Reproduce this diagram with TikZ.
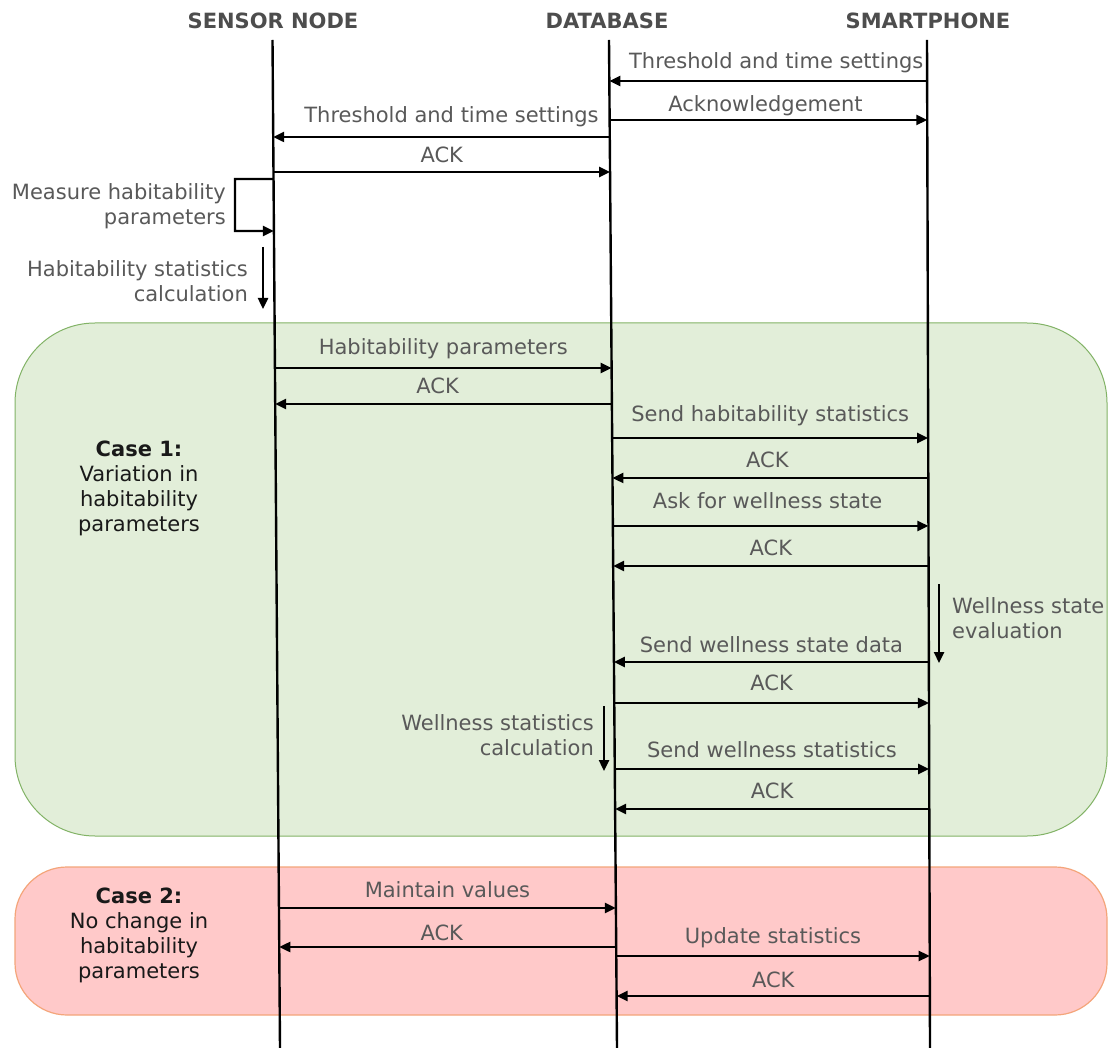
\documentclass[tikz,border=0pt]{standalone}
\usepackage{fontspec}
\setmainfont{DejaVu Sans}
\usetikzlibrary{arrows.meta,calc}
\definecolor{lblgray}{HTML}{595959}
\definecolor{hdrgray}{HTML}{4D4D4D}
\definecolor{gfill}{HTML}{E2EED9}
\definecolor{gline}{HTML}{82B366}
\definecolor{rfill}{HTML}{FFC9C9}
\definecolor{rline}{HTML}{F4A57A}
\newcommand\onl[3]{\coordinate (#3) at ($(#1T)!{(#2-40)/1008}!(#1B)$);}
\begin{document}
\begin{tikzpicture}[x=1pt,y=-1pt,
  every node/.style={font=\fontsize{21}{25}\selectfont},
  msg/.style={line width=2.4pt,-{Triangle[length=11pt,width=10pt]}},
  life/.style={line width=2.4pt},
  lbl/.style={anchor=base,text=lblgray,inner sep=0pt},
  note/.style={text=lblgray,inner sep=0pt},
  hdr/.style={text=hdrgray,font=\fontsize{21}{25}\selectfont\bfseries},
  casetxt/.style={text=black!90,align=center,inner sep=0pt}]
\useasboundingbox (0,0) rectangle (1108,1048);
\fill[white] (0,0) rectangle (1108,1048);
% case boxes
\draw[fill=gfill,draw=gline,line width=1pt,rounded corners=80pt] (15,323) rectangle (1107,836);
\draw[fill=rfill,draw=rline,line width=1.2pt,rounded corners=52pt] (15,867) rectangle (1107,1015);
% headers
\node[hdr] (hsn) at (273,21) {SENSOR NODE};
\node[hdr] (hdb) at (607,21) {DATABASE};
\node[hdr] (hsp) at (928,21) {SMARTPHONE};
% lifelines
\coordinate (snT) at (272.5,40); \coordinate (snB) at (280,1048);
\coordinate (dbT) at (609,40);   \coordinate (dbB) at (617,1048);
\coordinate (spT) at (927,40);   \coordinate (spB) at (930,1048);
\draw[life] (snT) -- (snB);
\draw[life] (dbT) -- (dbB);
\draw[life] (spT) -- (spB);
% messages - setup
\onl{sp}{81}{a1}\onl{db}{81}{b1}
\draw[msg] (a1) -- node[lbl,midway,xshift=8pt,yshift=12pt]{Threshold and time settings} (b1);
\onl{db}{120}{a2}\onl{sp}{120}{b2}
\draw[msg] (a2) -- node[lbl,midway,xshift=-3pt,yshift=8pt]{Acknowledgement} (b2);
\onl{db}{137}{a3}\onl{sn}{137}{b3}
\draw[msg] (a3) -- node[lbl,midway,xshift=10pt,yshift=14pt]{Threshold and time settings} (b3);
\onl{sn}{172}{a4}\onl{db}{172}{b4}
\draw[msg] (a4) -- node[lbl,midway,yshift=9pt]{ACK} (b4);
% self loop
\onl{sn}{179}{l1}\onl{sn}{231}{l2}
\coordinate (lc) at (235,179);
\draw[msg] (l1) -- (lc) |- (l2);
\node[note,align=right,anchor=east] (mlbl) at (226,206) {Measure habitability\\parameters};
% habitability statistics calculation
\coordinate (d1a) at (263,247); \coordinate (d1b) at (263,309);
\draw[msg] (d1a) -- (d1b);
\node[note,align=right,anchor=east] (hlbl) at (248,281) {Habitability statistics\\calculation};
% case 1
\onl{sn}{368}{a5}\onl{db}{368}{b5}
\draw[msg] (a5) -- node[lbl,midway,yshift=13pt]{Habitability parameters} (b5);
\onl{db}{404}{a6}\onl{sn}{404}{b6}
\draw[msg] (a6) -- node[lbl,midway,xshift=-6pt,yshift=10pt]{ACK} (b6);
\onl{db}{438}{a7}\onl{sp}{438}{b7}
\draw[msg] (a7) -- node[lbl,midway,yshift=16pt]{Send habitability statistics} (b7);
\onl{sp}{478}{a8}\onl{db}{478}{b8}
\draw[msg] (a8) -- node[lbl,midway,xshift=-3pt,yshift=10pt]{ACK} (b8);
\onl{db}{526}{a9}\onl{sp}{526}{b9}
\draw[msg] (a9) -- node[lbl,midway,xshift=-3pt,yshift=17pt]{Ask for wellness state} (b9);
\onl{sp}{566}{a10}\onl{db}{566}{b10}
\draw[msg] (a10) -- node[lbl,midway,yshift=10pt]{ACK} (b10);
\coordinate (d2a) at (939,584); \coordinate (d2b) at (939,663);
\draw[msg] (d2a) -- (d2b);
\node[note,align=left,anchor=west] (wlbl) at (952,618) {Wellness state\\evaluation};
\onl{sp}{662}{a11}\onl{db}{662}{b11}
\draw[msg] (a11) -- node[lbl,midway,yshift=9pt]{Send wellness state data} (b11);
\onl{db}{703}{a12}\onl{sp}{703}{b12}
\draw[msg] (a12) -- node[lbl,midway,yshift=12pt]{ACK} (b12);
\coordinate (d3a) at (604,706); \coordinate (d3b) at (604,771);
\draw[msg] (d3a) -- (d3b);
\node[note,align=right,anchor=east] (slbl) at (594,735) {Wellness statistics\\calculation};
\onl{db}{769}{a13}\onl{sp}{769}{b13}
\draw[msg] (a13) -- node[lbl,midway,yshift=11pt]{Send wellness statistics} (b13);
\onl{sp}{809}{a14}\onl{db}{809}{b14}
\draw[msg] (a14) -- node[lbl,midway,yshift=11pt]{ACK} (b14);
% case 2
\onl{sn}{908}{a15}\onl{db}{908}{b15}
\draw[msg] (a15) -- node[lbl,midway,yshift=10pt]{Maintain values} (b15);
\onl{db}{947}{a16}\onl{sn}{947}{b16}
\draw[msg] (a16) -- node[lbl,midway,xshift=-6pt,yshift=7pt]{ACK} (b16);
\onl{db}{956}{a17}\onl{sp}{956}{b17}
\draw[msg] (a17) -- node[lbl,midway,yshift=12pt]{Update statistics} (b17);
\onl{sp}{996}{a18}\onl{db}{996}{b18}
\draw[msg] (a18) -- node[lbl,midway,yshift=9pt]{ACK} (b18);
% case labels
\node[casetxt] (c1) at (139,488) {\textbf{Case 1:}\\Variation in\\habitability\\parameters};
\node[casetxt] (c2) at (139,935) {\textbf{Case 2:}\\No change in\\habitability\\parameters};
\end{tikzpicture}
\end{document}
